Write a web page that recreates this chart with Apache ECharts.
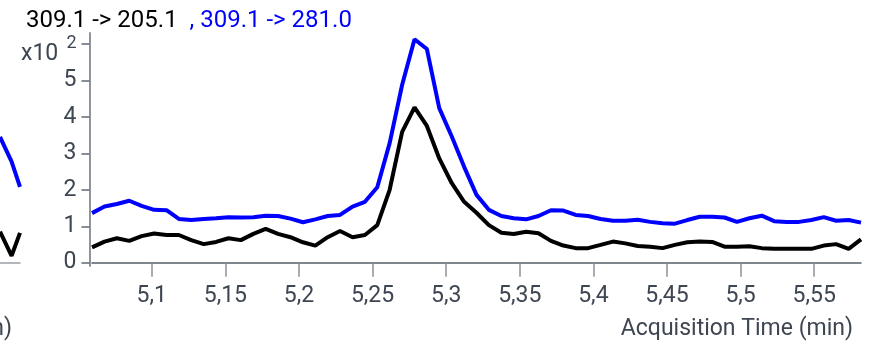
<!DOCTYPE html>
<html>
<head>
<meta charset="utf-8">
<script src="https://cdn.jsdelivr.net/npm/echarts@6/dist/echarts.min.js"></script>
<style>
  html, body { margin: 0; padding: 0; background: #fff; }
  #chart { width: 869px; height: 345px; }
</style>
</head>
<body>
<div id="chart"></div>
<script>
// transitions shown in the title
var traceNames = ['309.1 -> 205.1', '309.1 -> 281.0'];

// acquisition times (min)
var times = [5.0594, 5.0679, 5.0763, 5.0847, 5.0931, 5.1016, 5.1100, 5.1184, 5.1268, 5.1353,
    5.1437, 5.1521, 5.1605, 5.1690, 5.1774, 5.1858, 5.1942, 5.2027, 5.2111, 5.2195,
    5.2279, 5.2364, 5.2448, 5.2532, 5.2616, 5.2701, 5.2785, 5.2869, 5.2953, 5.3038,
    5.3122, 5.3206, 5.3290, 5.3375, 5.3459, 5.3543, 5.3627, 5.3712, 5.3796, 5.3880,
    5.3964, 5.4049, 5.4133, 5.4217, 5.4301, 5.4386, 5.4470, 5.4554, 5.4638, 5.4723,
    5.4807, 5.4891, 5.4975, 5.5060, 5.5144, 5.5228, 5.5312, 5.5397, 5.5481, 5.5565,
    5.5649, 5.5734, 5.5818];

// counts x10^2
var trace205 = [0.42, 0.58, 0.67, 0.60, 0.73, 0.80, 0.76, 0.76, 0.62, 0.51,
    0.57, 0.67, 0.62, 0.79, 0.93, 0.79, 0.70, 0.56, 0.47, 0.70,
    0.87, 0.70, 0.76, 1.03, 2.00, 3.59, 4.26, 3.75, 2.86, 2.18,
    1.67, 1.37, 1.03, 0.82, 0.79, 0.85, 0.81, 0.60, 0.47, 0.40,
    0.40, 0.49, 0.58, 0.53, 0.46, 0.44, 0.40, 0.49, 0.56, 0.58,
    0.57, 0.44, 0.44, 0.45, 0.40, 0.38, 0.38, 0.38, 0.38, 0.47,
    0.51, 0.38, 0.64];

var trace281 = [1.36, 1.54, 1.61, 1.70, 1.56, 1.45, 1.44, 1.20, 1.17, 1.20,
    1.22, 1.25, 1.24, 1.25, 1.29, 1.28, 1.21, 1.11, 1.19, 1.28,
    1.31, 1.54, 1.67, 2.07, 3.28, 4.88, 6.13, 5.86, 4.24, 3.46,
    2.63, 1.86, 1.45, 1.28, 1.22, 1.19, 1.28, 1.44, 1.43, 1.31,
    1.28, 1.20, 1.15, 1.15, 1.18, 1.12, 1.08, 1.07, 1.17, 1.26,
    1.26, 1.24, 1.12, 1.22, 1.29, 1.14, 1.12, 1.12, 1.17, 1.25,
    1.15, 1.17, 1.10];

// tail of the neighbouring panel on the left edge
var edgeX = [0, 0.58, 1];
var edge281 = [3.45, 2.77, 2.08];
var edge205 = [0.85, 0.19, 0.82];

var xTicks = [5.1, 5.15, 5.2, 5.25, 5.3, 5.35, 5.4, 5.45, 5.5, 5.55];
var xTickLabels = ['5,1', '5,15', '5,2', '5,25', '5,3', '5,35', '5,4', '5,45', '5,5', '5,55'];
var yTicks = [0, 1, 2, 3, 4, 5, 6];
var yTickLabels = ['0', '1', '2', '3', '4', '5', '{sup|2}'];

var FONT = 'Roboto, "Liberation Sans", Arial, sans-serif';
var labelColor = '#3e4652';

function pairs(xs, ys) {
    var out = [];
    for (var i = 0; i < xs.length; i++) {
        out.push([xs[i], ys[i]]);
    }
    return out;
}

var chart = echarts.init(document.getElementById('chart'), null, { renderer: 'canvas' });

var option = {
    animation: false,
    backgroundColor: '#fff',
    title: {
        text: '{k|' + traceNames[0] + '}{b|  , ' + traceNames[1] + '}',
        left: 21,
        top: 4,
        textStyle: {
            fontSize: 24,
            fontWeight: 'normal',
            fontFamily: FONT,
            rich: {
                k: { fontSize: 24, fontWeight: 'normal', fontFamily: FONT, color: '#000' },
                b: { fontSize: 24, fontWeight: 'normal', fontFamily: FONT, color: '#0000ff' }
            }
        }
    },
    graphic: [
        {
            type: 'text', left: 21, top: 43,
            style: { text: 'x10', font: '23px ' + FONT, fill: labelColor }
        },
        {
            type: 'text', x: 853, y: 318,
            style: { text: 'Acquisition Time (min)', font: '23px ' + FONT, fill: labelColor, align: 'right', verticalAlign: 'top' }
        },
        {
            type: 'text', x: 12, y: 318,
            style: { text: 'Acquisition Time (min)', font: '23px ' + FONT, fill: labelColor, align: 'right', verticalAlign: 'top' }
        }
    ],
    grid: [
        { left: 92, right: 8, top: 33, bottom: 79 },
        { left: 0, right: 849, top: 33, bottom: 79 }
    ],
    xAxis: [
        {
            type: 'value',
            gridIndex: 0,
            min: times[0],
            max: times[times.length - 1],
            offset: 3,
            axisLine: { lineStyle: { color: '#555d68', width: 1.5 } },
            axisTick: {
                customValues: xTicks,
                length: 14,
                lineStyle: { color: '#8a9099', width: 1.5 }
            },
            axisLabel: {
                customValues: xTicks,
                margin: 16,
                fontSize: 23,
                fontFamily: FONT,
                color: labelColor,
                formatter: function (v) {
                    var k = xTicks.indexOf(v);
                    return k >= 0 ? xTickLabels[k] : '';
                }
            },
            splitLine: { show: false }
        },
        {
            type: 'value',
            gridIndex: 1,
            min: 0,
            max: 1,
            offset: 3,
            axisLine: { lineStyle: { color: '#9aa0a6', width: 1.5 } },
            axisTick: { show: false },
            axisLabel: { show: false },
            splitLine: { show: false }
        }
    ],
    yAxis: [
        {
            type: 'value',
            gridIndex: 0,
            min: -0.09,
            max: 6.3,
            offset: 2.5,
            axisLine: { show: true, lineStyle: { color: '#8e949c', width: 2 } },
            axisTick: {
                show: true,
                customValues: yTicks,
                length: 8,
                lineStyle: { color: '#5f6873', width: 1.5 }
            },
            axisLabel: {
                customValues: yTicks,
                margin: 13,
                fontSize: 23,
                fontFamily: FONT,
                color: labelColor,
                formatter: function (v) {
                    var k = yTicks.indexOf(v);
                    return k >= 0 ? yTickLabels[k] : '';
                },
                rich: {
                    sup: { fontSize: 18, fontFamily: FONT, color: labelColor }
                }
            },
            splitLine: { show: false }
        },
        {
            type: 'value',
            gridIndex: 1,
            min: -0.09,
            max: 6.3,
            show: false
        }
    ],
    series: [
        {
            name: traceNames[1],
            type: 'line',
            xAxisIndex: 0, yAxisIndex: 0,
            data: pairs(times, trace281),
            showSymbol: false,
            lineStyle: { color: '#0000ff', width: 4 }
        },
        {
            name: traceNames[0],
            type: 'line',
            xAxisIndex: 0, yAxisIndex: 0,
            data: pairs(times, trace205),
            showSymbol: false,
            lineStyle: { color: '#000000', width: 4 }
        },
        {
            type: 'line',
            xAxisIndex: 1, yAxisIndex: 1,
            data: pairs(edgeX, edge281),
            showSymbol: false,
            lineStyle: { color: '#0000ff', width: 4 }
        },
        {
            type: 'line',
            xAxisIndex: 1, yAxisIndex: 1,
            data: pairs(edgeX, edge205),
            showSymbol: false,
            lineStyle: { color: '#000000', width: 4 }
        }
    ]
};

chart.setOption(option);
window.addEventListener('resize', function () {
    chart.resize();
});
</script>
</body>
</html>
